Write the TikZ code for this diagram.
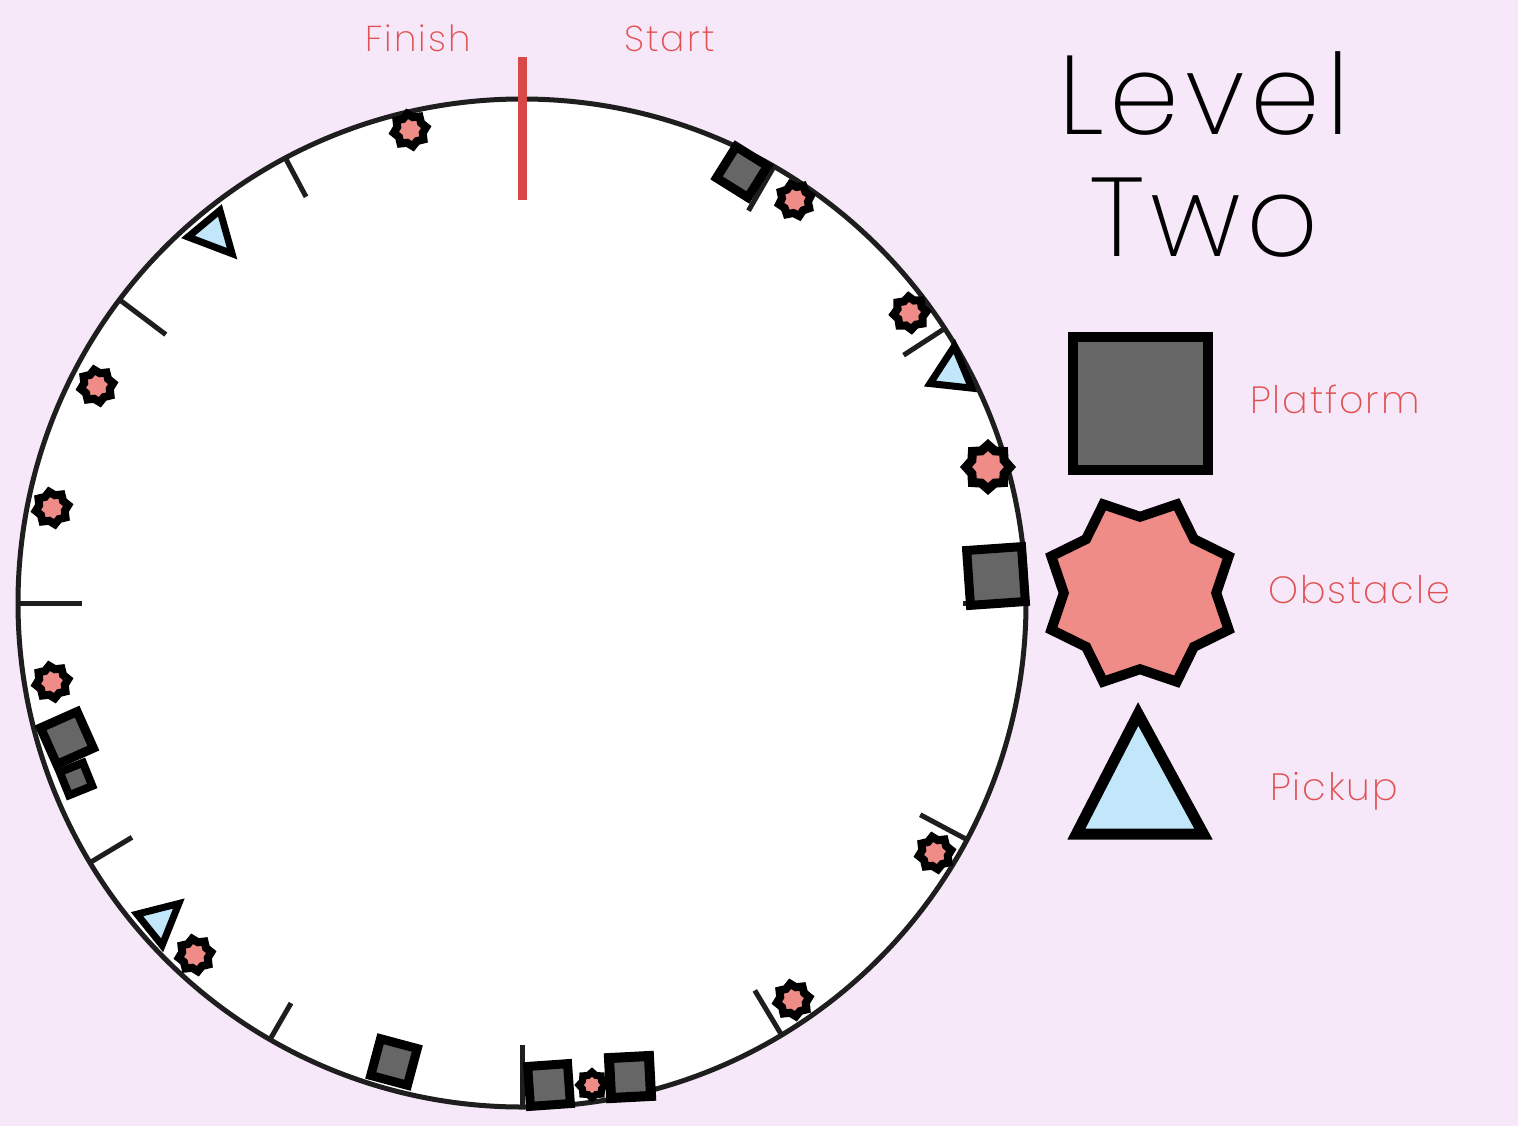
\documentclass[tikz,border=0pt]{standalone}
\usepackage{fontspec}
\IfFontExistsTF{Poppins ExtraLight}{\setmainfont{Poppins ExtraLight}}{\IfFontExistsTF{Poppins Light}{\setmainfont{Poppins Light}}{\setmainfont{Poppins}}}
\usetikzlibrary{shapes.geometric,calc}
\definecolor{bg}{RGB}{246,231,249}
\definecolor{redtxt}{RGB}{224,82,82}
\definecolor{startred}{RGB}{216,72,70}
\definecolor{platgray}{RGB}{102,102,102}
\definecolor{obstpink}{RGB}{240,140,136}
\definecolor{pickblue}{RGB}{194,230,250}
\definecolor{rim}{RGB}{30,30,30}
\newcommand\mytri[6]{%
  \coordinate (#1a) at #2;
  \coordinate (#1b) at #3;
  \coordinate (#1c) at #4;
  \coordinate (#1m) at ($(#1a)!0.5!(#1b)$);
  \coordinate (#1g) at ($(#1m)!1/3!(#1c)$);
  \draw[pickup, line width=#6pt] ($(#1g)!#5!(#1a)$) -- ($(#1g)!#5!(#1b)$) -- ($(#1g)!#5!(#1c)$) -- cycle;
}
\begin{document}
\begin{tikzpicture}[x=1pt,y=-1pt,
  platform/.style={draw=black, fill=platgray, rectangle, inner sep=0pt, line join=miter},
  obst/.style={draw=black, fill=obstpink, star, star points=8, star point ratio=1.26, inner sep=0pt, line join=miter},
  sobst/.style={obst, minimum size=33pt, line width=8pt},
  pickup/.style={draw=black, fill=pickblue, line join=miter},
  tickmark/.style={draw=rim, line width=5pt},
  lbl/.style={text=redtxt, font=\fontsize{38}{40}\selectfont\addfontfeatures{LetterSpace=5}, anchor=base west, inner sep=0pt},
  toplbl/.style={text=redtxt, font=\fontsize{36}{38}\selectfont\addfontfeatures{LetterSpace=6}, anchor=base west, inner sep=0pt},
  title/.style={text=black, font=\fontsize{112}{112}\selectfont\addfontfeatures{LetterSpace=5}, anchor=base, inner sep=0pt},
]
\fill[bg] (0,0) rectangle (1518,1126);
\useasboundingbox (0,0) rectangle (1518,1126);

% wheel
\coordinate (c) at (522,603);
\draw[rim, fill=white, line width=5pt] (c) circle[radius=504];
\foreach \a/\r in {-118/460,-143/446,180/440,149/455,120/462,90/442,59/452,28/451,0/441,-33/455,-60/453}
  \draw[tickmark] ($(c)+(\a:504)$) -- ($(c)+(\a:\r)$);

% start / finish marker
\coordinate (s1) at (522,57);
\coordinate (s2) at (522,200);
\draw[startred, line width=9pt] (s1) -- (s2);
\node[toplbl] (finish) at (365,52) {Finish};
\node[toplbl] (start) at (624,52) {Start};

% obstacles on the wheel
\node[sobst, shape border rotate=10] (o1) at (410,130) {};
\node[sobst, shape border rotate=15] (o2) at (795,200) {};
\node[sobst, shape border rotate=5] (o3) at (910,313) {};
\node[obst, minimum size=44pt, line width=9pt, shape border rotate=0] (o4) at (988,467) {};
\node[sobst, shape border rotate=10] (o5) at (935,853) {};
\node[sobst, shape border rotate=10] (o6) at (793,1000) {};
\node[obst, minimum size=26pt, line width=7pt, shape border rotate=0] (o7) at (592,1085) {};
\node[sobst, shape border rotate=10] (o8) at (195,955) {};
\node[sobst, shape border rotate=10] (o9) at (52,682) {};
\node[sobst, shape border rotate=10] (o10) at (52,508) {};
\node[sobst, shape border rotate=10] (o11) at (97,386) {};

% platforms on the wheel
\node[platform, minimum size=37pt, line width=9pt, rotate=-32] (p1) at (742,172) {};
\node[platform, minimum size=55pt, line width=9pt, rotate=4] (p2) at (996,576) {};
\node[platform, minimum size=40pt, line width=9pt, rotate=4] (p3) at (549,1085) {};
\node[platform, minimum size=40pt, line width=10pt, rotate=3] (p4) at (630,1077) {};
\node[platform, minimum size=38pt, line width=9pt, rotate=-15] (p5) at (394,1062) {};
\node[platform, minimum size=25pt, line width=8pt, rotate=22] (p7) at (76,779) {};
\node[platform, minimum size=40pt, line width=9pt, rotate=24] (p6) at (67,738) {};

% pickups on the wheel
\mytri{ta}{(180,238)}{(222,203)}{(238,260)}{0.76}{7}
\mytri{tb}{(955,338)}{(923,387)}{(978,393)}{0.76}{7}
\mytri{tc}{(130,912)}{(185,898)}{(163,953)}{0.76}{7}

% title
\node[title] (lvl) at (1204,135) {Level};
\node[title] (two) at (1204,256) {Two};

% legend
\node[platform, minimum width=135pt, minimum height=133pt, line width=10pt] (lp) at (1140.5,403.5) {};
\node[obst, minimum size=192pt, line width=10pt, shape border rotate=22.5] (lo) at (1140,593) {};
\mytri{tl}{(1138,702)}{(1067,840)}{(1213,840)}{0.87}{11}
\node[lbl] (lplat) at (1250,413) {Platform};
\node[lbl] (lobst) at (1268,603) {Obstacle};
\node[lbl] (lpick) at (1270,800) {Pickup};
\end{tikzpicture}
\end{document}
